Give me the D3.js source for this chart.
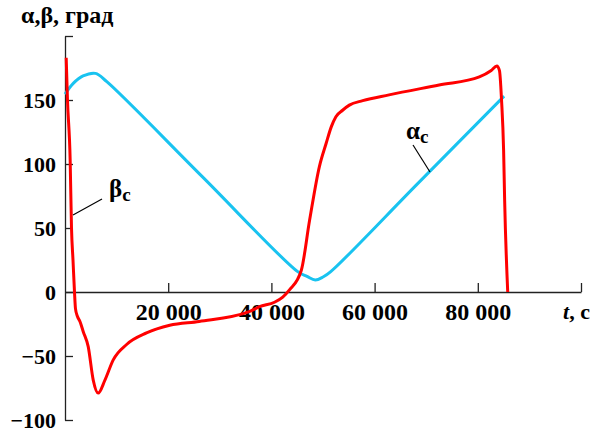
<!DOCTYPE html>
<html>
<head>
<meta charset="utf-8">
<script src="https://cdn.jsdelivr.net/npm/d3@7"></script>
<style>
  html,body{margin:0;padding:0;background:#fff;}
</style>
</head>
<body>
<svg id="chart" width="598" height="433"></svg>
<script>
'use strict';
// α_c (cyan) and β_c (red) vs time
const alphaTime=[0,1600,3500,5900,8100,26600,45100,46900,48500,50000,51500,68300,85100];
const alphaDeg =[154.6,163,168.8,170.8,164.3,90.1,15.9,12.2,9.4,11.7,15.9,84.5,153];
const betaTime=[230,480,1000,1260,1550,1840,2030,2400,2900,3540,4500,5470,6430,7740,9350,11940,15800,20300,26000,35700,37700,40600,42200,43500,45800,47400,49300,50600,51600,52500,53800,55100,57700,62800,72500,80300,82600,83700,84200,84600,85000,85200,85800];
const betaDeg =[183,150,103,50,25,0,-13,-19,-23,-31,-42.7,-68.8,-79,-68.8,-53,-41,-32,-26,-23,-15.4,-11.5,-8,-4,1.6,17,56,98,116,129,137,142,146,149.5,154,161.7,168,173,176.6,173,150,111,72,0];
const xTicks=[20000,40000,60000,80000,100000];
const yTicks=[-100,-50,0,50,100,150,200];

const FONT='"Liberation Serif","Times New Roman","DejaVu Serif",serif';
const svg=d3.select('#chart');
const x=d3.scaleLinear().domain([0,100000]).range([65,581]);
const y=d3.scaleLinear().domain([-100,200]).range([420,36]);

const fmt=d=>d===100000?'':d3.format(',')(d).replace(/,/g,' ');
const gx=svg.append('g').attr('transform',`translate(0,${y(0)})`)
  .call(d3.axisBottom(x).tickValues(xTicks).tickSize(-9).tickSizeOuter(0).tickPadding(11).tickFormat(fmt));
const gy=svg.append('g').attr('transform',`translate(${x(0)},0)`)
  .call(d3.axisLeft(y).tickValues(yTicks).tickSize(-8).tickSizeOuter(0).tickPadding(9)
    .tickFormat(d=>d===200?'':(d<0?'\u2212'+(-d):d)));
gx.attr('font-size',24); gy.attr('font-size',22);
[gx,gy].forEach(g=>{
  g.attr('font-family',FONT).attr('font-weight','bold');
  g.select('.domain').attr('stroke','#222').attr('stroke-width',1.3);
  g.selectAll('.tick line').attr('stroke','#222').attr('stroke-width',1.3);
  g.selectAll('.tick text').attr('fill','#000');
});

const lineA=d3.line().curve(d3.curveCatmullRom.alpha(0.5)).x(d=>x(d[0])).y(d=>y(d[1]));
const lineB=d3.line().curve(d3.curveMonotoneX).x(d=>x(d[0])).y(d=>y(d[1]));
svg.append('path').datum(alphaTime.map((t,i)=>[t,alphaDeg[i]]))
  .attr('d',lineA).attr('fill','none').attr('stroke','#19c3f0').attr('stroke-width',3);
svg.append('path').datum(betaTime.map((t,i)=>[t,betaDeg[i]]))
  .attr('d',lineB).attr('fill','none').attr('stroke','#ff0000').attr('stroke-width',3);

const txt=()=>svg.append('text').attr('font-family',FONT).attr('font-weight','bold');
// axis titles
txt().attr('x',21).attr('y',23).attr('font-size',24).text('α,β, град');
const tl=txt().attr('x',563).attr('y',319).attr('font-size',22);
tl.append('tspan').attr('font-style','italic').text('t');
tl.append('tspan').text(', с');

// curve labels with pointer lines
function label(tx,ty,sym,x1,y1,x2,y2){
  const t=txt().attr('x',tx).attr('y',ty).attr('font-size',25);
  t.append('tspan').text(sym);
  t.append('tspan').attr('dy',4).attr('font-size',19).text('c');
  svg.append('line').attr('x1',x1).attr('y1',y1).attr('x2',x2).attr('y2',y2)
    .attr('stroke','#000').attr('stroke-width',1.2);
}
label(109,197,'β',102,199,73,215);
label(406,139,'α',413,145,430,172);
</script>
</body>
</html>
